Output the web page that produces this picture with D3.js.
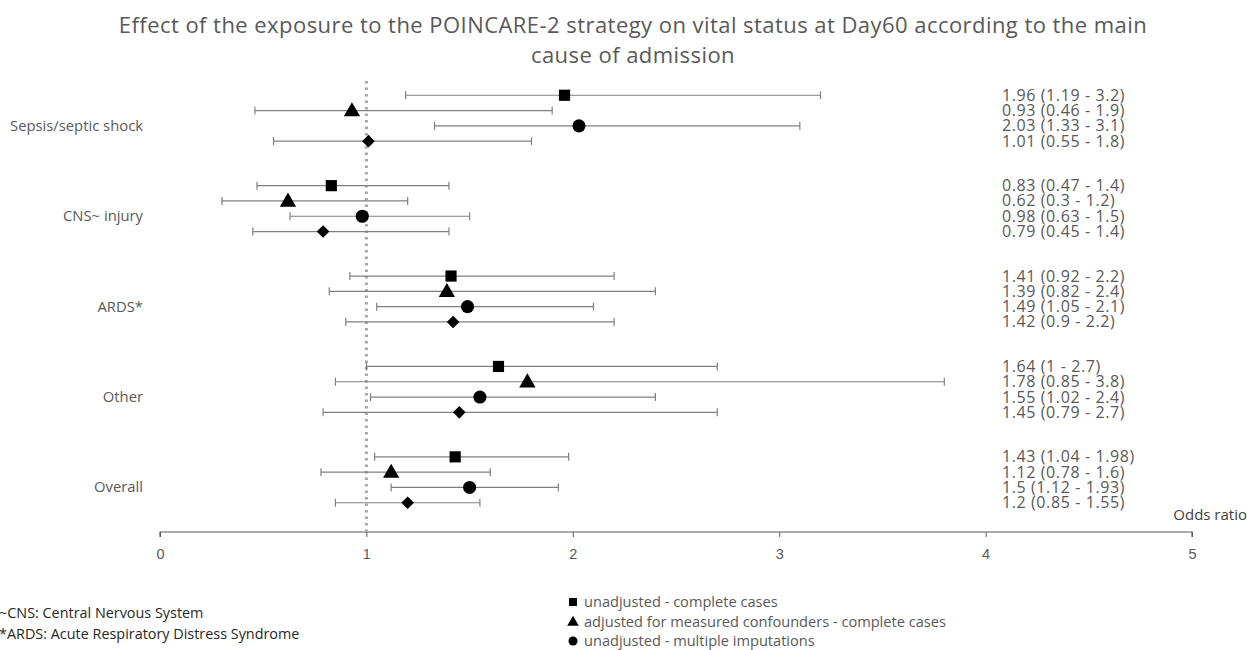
<!DOCTYPE html>
<html>
<head>
<meta charset="utf-8">
<script src="https://cdn.jsdelivr.net/npm/d3@7"></script>
<style>
  body { margin: 0; background: #fff; }
  svg { font-family: "Open Sans", "Noto Sans", sans-serif; }
</style>
</head>
<body>
<div id="chart"></div>
<script>
// Forest plot data
var groups = ["Sepsis/septic shock", "CNS~ injury", "ARDS*", "Other", "Overall"];
var methods = [
    "unadjusted - complete cases",
    "adjusted for measured confounders - complete cases",
    "unadjusted - multiple imputations",
    "adjusted - multiple imputations"
];
var shapes = ["square", "triangle", "circle", "diamond"];

// odds ratio estimates, one array per group (order = methods)
var estimates = [
    [1.96, 0.93, 2.03, 1.01],
    [0.83, 0.62, 0.98, 0.79],
    [1.41, 1.39, 1.49, 1.42],
    [1.64, 1.78, 1.55, 1.45],
    [1.43, 1.12, 1.5, 1.2]
];
var lowers = [
    [1.19, 0.46, 1.33, 0.55],
    [0.47, 0.3, 0.63, 0.45],
    [0.92, 0.82, 1.05, 0.9],
    [1, 0.85, 1.02, 0.79],
    [1.04, 0.78, 1.12, 0.85]
];
var uppers = [
    [3.2, 1.9, 3.1, 1.8],
    [1.4, 1.2, 1.5, 1.4],
    [2.2, 2.4, 2.1, 2.2],
    [2.7, 3.8, 2.4, 2.7],
    [1.98, 1.6, 1.93, 1.55]
];
var xTicks = [0, 1, 2, 3, 4, 5];

var width = 1247, height = 650;
var textGray = "#595959";

var svg = d3.select("#chart").append("svg")
    .attr("width", width)
    .attr("height", height);

// Title
var title = svg.append("text")
    .attr("text-anchor", "middle")
    .attr("fill", textGray)
    .attr("font-size", 22)
    .attr("letter-spacing", 0.45);
title.append("tspan").attr("x", 633).attr("y", 33)
    .text("Effect of the exposure to the POINCARE-2 strategy on vital status at Day60 according to the main");
title.append("tspan").attr("x", 633).attr("y", 63)
    .text("cause of admission");

// scales
var xScale = d3.scaleLinear().domain([0, 5]).range([160, 1192]);
var groupScale = d3.scaleBand().domain(groups).range([73, 525]);
var rowScale = d3.scaleBand().domain(d3.range(4)).range([-30.6, 30.6]).padding(0);

function rowY(g, m) {
    return groupScale(groups[g]) + groupScale.bandwidth() / 2 + rowScale(m) + rowScale.bandwidth() / 2;
}

// axis
var axisY = 532;
var xAxis = d3.axisBottom(xScale).tickValues(xTicks).tickSize(5).tickFormat(d3.format("d"));
var axisG = svg.append("g")
    .attr("transform", "translate(0," + axisY + ")")
    .call(xAxis);
axisG.select(".domain").attr("stroke", "#595959").attr("stroke-width", 1.2)
    .attr("d", "M" + xScale(0) + ",5V0H" + xScale(5) + "V5");
axisG.selectAll(".tick line").attr("stroke", "#595959");
axisG.selectAll(".tick text")
    .attr("fill", textGray)
    .attr("font-size", 14.5)
    .attr("y", 17);

svg.append("text")
    .attr("x", 1247)
    .attr("y", 520)
    .attr("text-anchor", "end")
    .attr("fill", "#404040")
    .attr("font-size", 15)
    .text("Odds ratio");

// reference line at OR = 1
svg.append("line")
    .attr("x1", xScale(1)).attr("x2", xScale(1))
    .attr("y1", 81).attr("y2", axisY)
    .attr("stroke", "#a6a6a6")
    .attr("stroke-width", 3)
    .attr("stroke-dasharray", "2.5,4");

// group labels
svg.selectAll(".groupLabel")
    .data(groups)
    .enter()
    .append("text")
    .attr("class", "groupLabel")
    .attr("x", 143)
    .attr("y", function(d, i) { return rowY(i, 2) + 5; })
    .attr("text-anchor", "end")
    .attr("fill", textGray)
    .attr("font-size", 14.8)
    .text(function(d) { return d; });

var symbolTypes = {
    square: d3.symbolSquare,
    triangle: d3.symbolTriangle,
    circle: d3.symbolCircle,
    diamond: d3.symbolSquare
};
var symbolSizes = { square: 125, triangle: 115, circle: 135, diamond: 80 };

// build the rows
var rows = [];
groups.forEach(function(g, gi) {
    methods.forEach(function(m, mi) {
        rows.push({
            g: gi, m: mi,
            est: estimates[gi][mi],
            lo: lowers[gi][mi],
            hi: uppers[gi][mi]
        });
    });
});

var rowG = svg.selectAll(".row")
    .data(rows)
    .enter()
    .append("g")
    .attr("class", "row")
    .attr("transform", function(d) { return "translate(0," + rowY(d.g, d.m) + ")"; });

rowG.append("line")
    .attr("x1", function(d) { return xScale(d.lo); })
    .attr("x2", function(d) { return xScale(d.hi); })
    .attr("stroke", "#808080")
    .attr("stroke-width", 1.2);
rowG.append("line")
    .attr("x1", function(d) { return xScale(d.lo); })
    .attr("x2", function(d) { return xScale(d.lo); })
    .attr("y1", -4).attr("y2", 4)
    .attr("stroke", "#808080")
    .attr("stroke-width", 1.2);
rowG.append("line")
    .attr("x1", function(d) { return xScale(d.hi); })
    .attr("x2", function(d) { return xScale(d.hi); })
    .attr("y1", -4).attr("y2", 4)
    .attr("stroke", "#808080")
    .attr("stroke-width", 1.2);

function markerTransform(s, x) {
    if (s === "triangle") return "translate(" + x + ",1)";
    if (s === "diamond") return "translate(" + x + ",0)rotate(45)";
    return "translate(" + x + ",0)";
}

rowG.append("path")
    .attr("transform", function(d) {
        return markerTransform(shapes[d.m], xScale(d.est));
    })
    .attr("d", function(d) {
        var s = shapes[d.m];
        return d3.symbol().type(symbolTypes[s]).size(symbolSizes[s])();
    })
    .attr("fill", "#000");

// value labels on the right
rowG.append("text")
    .attr("x", 1002)
    .attr("y", 5.5)
    .attr("fill", textGray)
    .attr("font-size", 16)
    .attr("letter-spacing", 0.6)
    .text(function(d) { return d.est + " (" + d.lo + " - " + d.hi + ")"; });

// footnotes
var notes = ["~CNS: Central Nervous System", "*ARDS: Acute Respiratory Distress Syndrome"];
svg.selectAll(".note")
    .data(notes)
    .enter()
    .append("text")
    .attr("class", "note")
    .attr("x", -1)
    .attr("y", function(d, i) { return 618 + i * 21; })
    .attr("fill", "#262626")
    .attr("font-size", 14.4)
    .text(function(d) { return d; });

// legend (the picture is cropped below the third entry)
var legend = svg.selectAll(".legend")
    .data(methods.slice(0, 3))
    .enter()
    .append("g")
    .attr("class", "legend")
    .attr("transform", function(d, i) { return "translate(573," + (602 + i * 19.5) + ")"; });
legend.append("path")
    .attr("transform", function(d, i) { return markerTransform(shapes[i], 0); })
    .attr("d", function(d, i) {
        return d3.symbol().type(symbolTypes[shapes[i]]).size(shapes[i] === "triangle" ? 58 : 64)();
    })
    .attr("fill", "#000");
legend.append("text")
    .attr("x", 11)
    .attr("y", 5)
    .attr("fill", textGray)
    .attr("font-size", 14.6)
    .text(function(d) { return d; });
</script>
</body>
</html>
